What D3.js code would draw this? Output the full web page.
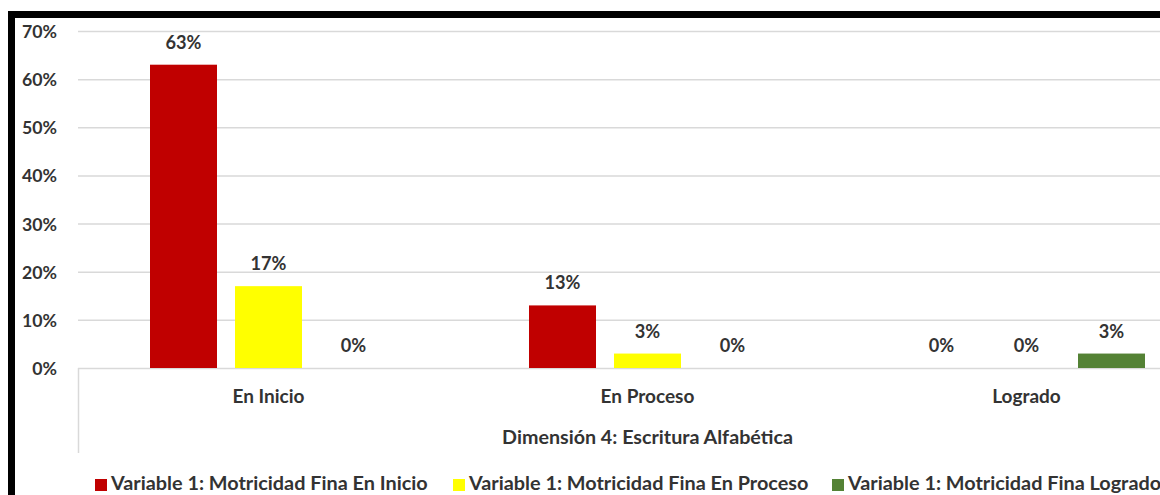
<!DOCTYPE html>
<html><head><meta charset="utf-8">
<script src="https://cdn.jsdelivr.net/npm/d3@7"></script>
<style>
html,body{margin:0;padding:0;background:#fff;overflow:hidden}
svg{display:block}
text{font-family:Lato,"Open Sans",sans-serif;font-weight:bold;fill:#333}
</style></head>
<body><svg id="c" width="1160" height="495"></svg>
<script>
const categories = ["En Inicio", "En Proceso", "Logrado"];
const seriesNames = ["Variable 1: Motricidad Fina En Inicio", "Variable 1: Motricidad Fina En Proceso", "Variable 1: Motricidad Fina Logrado"];
const seriesEnInicio = [63, 13, 0];
const seriesEnProceso = [17, 3, 0];
const seriesLogrado = [0, 0, 3];
const yTicks = [0, 10, 20, 30, 40, 50, 60, 70];
const axisTitle = "Dimensión 4: Escritura Alfabética";
const colors = ["#c00000", "#ffff00", "#548235"];

const series = [seriesEnInicio, seriesEnProceso, seriesLogrado];
const svg = d3.select("#c");

// helper: fit font size so that a given string gets target width
function fitSize(str, target, base) {
  const t = svg.append("text").attr("font-size", base).text(str);
  const w = t.node().getComputedTextLength();
  t.remove();
  return base * target / w;
}

const y = d3.scaleLinear().domain([0, 70]).range([368, 31]);
const x0 = d3.scaleBand().domain(categories).range([79, 1216]).padding(0);
const x1 = d3.scaleBand().domain(d3.range(3)).range([71, x0.bandwidth() - 71]).paddingInner(18/85).paddingOuter(0);

// gridlines
svg.append("g").selectAll("line").data(yTicks).join("line")
  .attr("x1", 78).attr("x2", 1160)
  .attr("y1", d => y(d) + 0.5).attr("y2", d => y(d) + 0.5)
  .attr("stroke", "#d9d9d9").attr("stroke-width", 1.5);

// category axis left vertical line
svg.append("line").attr("x1", 78.5).attr("x2", 78.5).attr("y1", 368).attr("y2", 453)
  .attr("stroke", "#d9d9d9").attr("stroke-width", 1.5);

// y axis labels
const tickSize = fitSize("70%", 35, 16);
svg.append("g").selectAll("text").data(yTicks).join("text")
  .attr("x", 57).attr("y", d => y(d) + 7)
  .attr("text-anchor", "end").attr("font-size", tickSize)
  .text(d => d + "%");

// bars
const groups = svg.append("g").selectAll("g").data(categories).join("g")
  .attr("transform", c => `translate(${x0(c)},0)`);
const labelSize = fitSize("63%", 36, 16);
groups.each(function(c, ci) {
  const g = d3.select(this);
  series.forEach((s, si) => {
    const v = s[ci];
    if (v > 0) {
      g.append("rect").attr("x", x1(si)).attr("width", x1.bandwidth())
        .attr("y", y(v)).attr("height", y(0) - y(v)).attr("fill", colors[si]);
    }
    g.append("text").attr("x", x1(si) + x1.bandwidth() / 2).attr("y", y(v) - 16)
      .attr("text-anchor", "middle").attr("font-size", labelSize).text(v + "%");
  });
});

// category labels
const catSize = fitSize("En Inicio", 72, 16);
svg.append("g").selectAll("text").data(categories).join("text")
  .attr("x", c => x0(c) + x0.bandwidth() / 2).attr("y", 402.5)
  .attr("text-anchor", "middle").attr("font-size", catSize).text(c => c);

// axis title
const titleSize = fitSize(axisTitle, 291, 16);
svg.append("text").attr("x", (79 + 1216) / 2).attr("y", 443.5)
  .attr("text-anchor", "middle").attr("font-size", titleSize).text(axisTitle);

// legend
const legSize = fitSize(seriesNames[0], 317, 16);
const legX = [95, 453, 832];
const leg = svg.append("g").selectAll("g").data(seriesNames).join("g")
  .attr("transform", (d, i) => `translate(${legX[i]},0)`);
leg.append("rect").attr("x", 0).attr("y", 479).attr("width", 12).attr("height", 12)
  .attr("fill", (d, i) => colors[i]);
leg.append("text").attr("x", 16).attr("y", 490).attr("font-size", legSize).text(d => d);

// black frame
svg.append("rect").attr("x", 8).attr("y", 11).attr("width", 1160).attr("height", 7).attr("fill", "#000");
svg.append("rect").attr("x", 8).attr("y", 11).attr("width", 7).attr("height", 500).attr("fill", "#000");
</script></body></html>
